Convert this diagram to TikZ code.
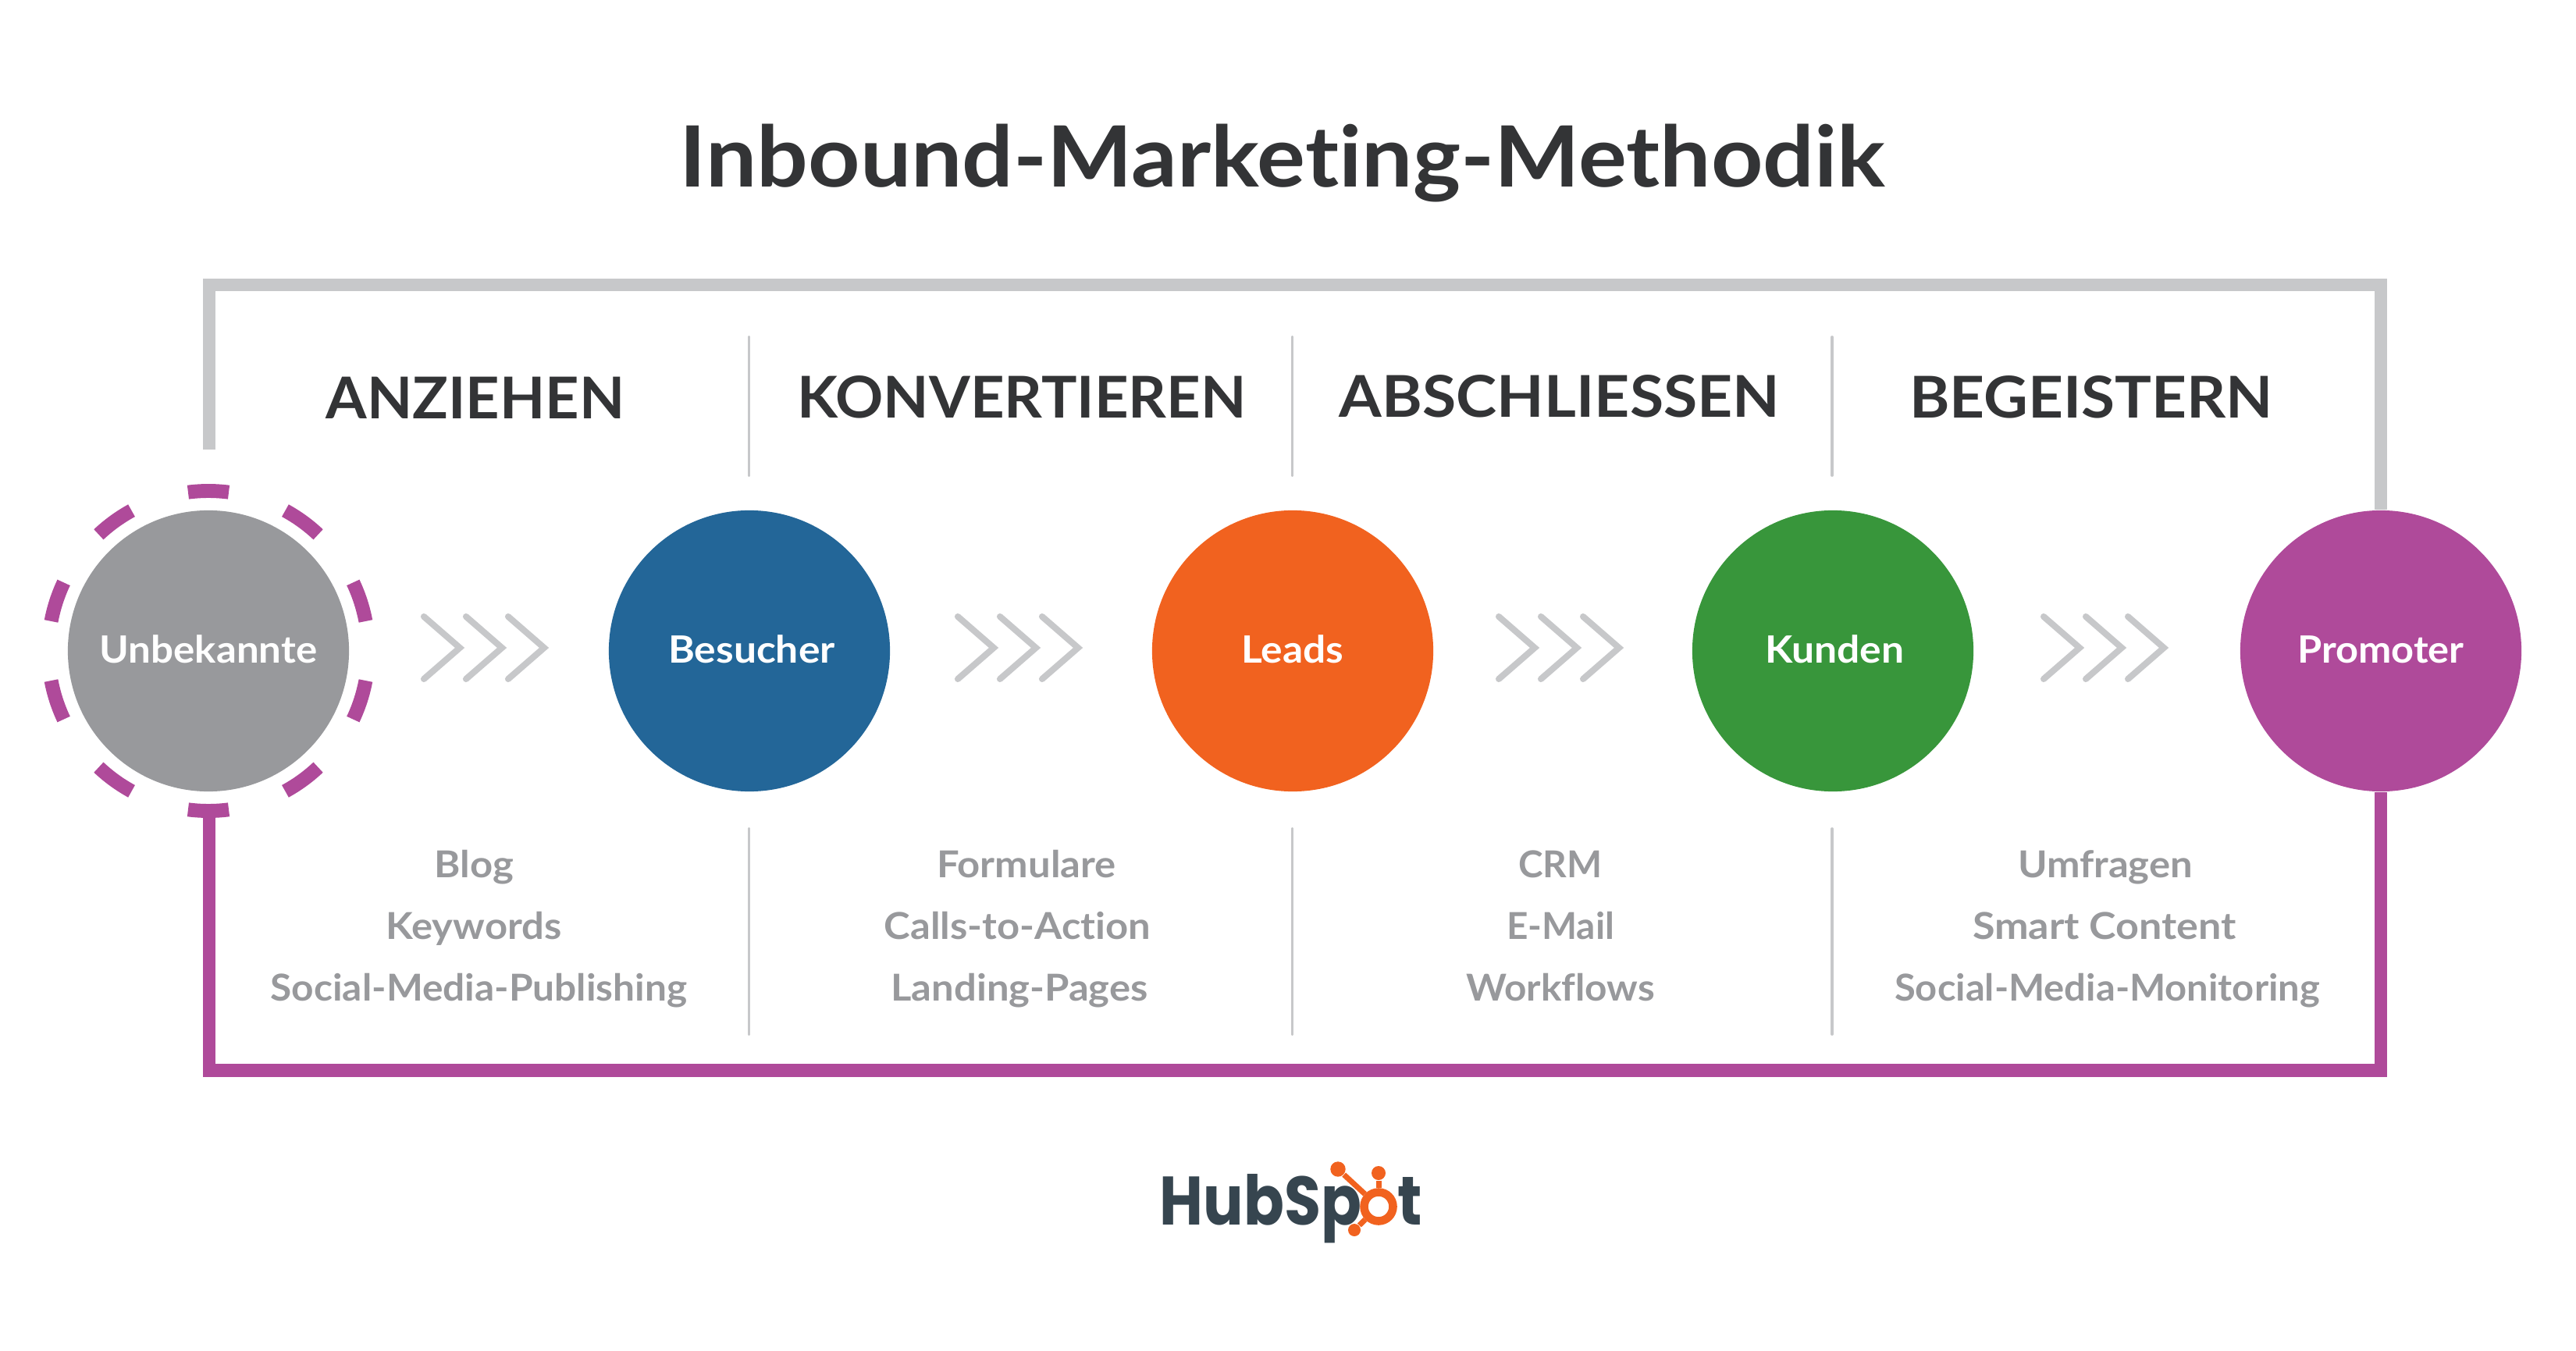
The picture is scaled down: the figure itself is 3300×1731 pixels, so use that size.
\documentclass[tikz,border=0pt]{standalone}
\usepackage{fontspec}
\setmainfont{Lato}[FakeStretch=1.07,Ligatures=NoCommon]
\newfontfamily\logofont{Poppins}[UprightFont=* SemiBold,BoldFont=* Bold]
\definecolor{ink}{HTML}{333436}
\definecolor{soft}{HTML}{98999C}
\definecolor{rule}{HTML}{C7C8CA}
\definecolor{plum}{HTML}{AF4A9A}
\definecolor{navy}{HTML}{236698}
\definecolor{tang}{HTML}{F1621F}
\definecolor{leaf}{HTML}{38963B}
\definecolor{slate}{HTML}{36454F}
\tikzset{
 px/.style={x=0.01cm,y=-0.01cm},
 disc/.style={circle,inner sep=0pt,minimum size=3.6cm},
 disclabel/.style={anchor=base,inner sep=0pt,text=white,font=\fontsize{13.7pt}{16pt}\selectfont\bfseries},
 titletext/.style={anchor=base,inner sep=0pt,text=ink,font=\fontsize{30.8pt}{36pt}\selectfont\bfseries},
 head/.style={anchor=base,font=\fontsize{21pt}{26pt}\selectfont\bfseries,text=ink,inner sep=0pt},
 item/.style={anchor=base,font=\fontsize{13.5pt}{16pt}\selectfont\bfseries,text=soft,inner sep=0pt},
 frame/.style={line width=4.75pt,miter limit=10},
 divider/.style={draw=rule,line width=1.1pt,line cap=round},
 chev/.style={draw=rule,line width=2.3pt,line cap=round,line join=miter,miter limit=10},
 dashseg/.style={draw=plum,line width=5.1pt},
 logotext/.style={anchor=base west,inner sep=0pt,text=slate,font=\logofont\fontsize{25pt}{30pt}\selectfont\bfseries},
 hub/.style={circle,inner sep=0pt,fill=tang},
 spoke/.style={draw=tang,line width=2pt},
}
\newcommand{\chevrons}[1]{%
 \foreach \k in {0,54,108} {
  \draw[chev] (#1+\k,790) -- (#1+46+\k,830) -- (#1+\k,870);
 }}
\newcommand{\hs}[2]{\scalebox{#1}[1]{#2}}
\begin{document}
\begin{tikzpicture}[px]
\useasboundingbox (0,0) rectangle (3300,1731);
\node[titletext] (title) at (1643,240) {Inbound-Marketing-Methodik};
\coordinate (gs) at (268,576);
\coordinate (gtl) at (268,365);
\coordinate (gtr) at (3050,365);
\coordinate (pbl) at (268,1371.5);
\coordinate (pbr) at (3050,1371.5);
\coordinate (ps) at (268,1040);
\node[disc,fill=soft] (u) at (267,834) {};
\node[disc,fill=navy] (b) at (960,834) {};
\node[disc,fill=tang] (l) at (1656,834) {};
\node[disc,fill=leaf] (k) at (2348,834) {};
\node[disc,fill=plum] (p) at (3050,834) {};
\draw[rule,frame] (gs) -- (gtl) -- (gtr) -- (gtr |- p.north);
\draw[plum,frame] (ps) -- (pbl) -- (pbr) -- (pbr |- p.south);
\node[disclabel] (ut) at (267,849) {\hs{0.99}{Unbekannte}};
\node[disclabel] (bt) at (963,849) {Besucher};
\node[disclabel] (lt) at (1656,849) {Leads};
\node[disclabel] (kt) at (2350,849) {Kunden};
\node[disclabel] (pt) at (3050,849) {\hs{0.98}{Promoter}};
\foreach \a in {18,54,...,342}
 \draw[dashseg] (267,834) ++(\a-7.3:205) arc[start angle=\a-7.3,end angle=\a+7.3,radius=205];
\chevrons{543}
\chevrons{1227}
\chevrons{1920}
\chevrons{2618}
\node[head] (h1) at (609,537) {\hs{0.958}{ANZIEHEN}};
\node[head] (h2) at (1309,536) {\hs{0.961}{KONVERTIEREN}};
\node[head] (h3) at (1998,535) {\hs{0.996}{ABSCHLIESSEN}};
\node[head] (h4) at (2679,536) {\hs{0.99}{BEGEISTERN}};
\foreach \x in {959.5,1655.5,2347} {
 \draw[divider] (\x,432) -- (\x,609);
 \draw[divider] (\x,1062) -- (\x,1325);
}
\node[item] (i11) at (607,1124) {Blog};
\node[item] (i12) at (607,1203) {Keywords};
\node[item] (i13) at (613.5,1282) {\hs{0.977}{Social-Media-Publishing}};
\node[item] (i21) at (1315,1124) {Formulare};
\node[item] (i22) at (1303.5,1203) {Calls-to-Action};
\node[item] (i23) at (1306,1282) {Landing-Pages};
\node[item] (i31) at (1999,1124) {\hs{0.94}{CRM}};
\node[item] (i32) at (1999,1203) {\hs{0.94}{E-Mail}};
\node[item] (i33) at (1999,1282) {\hs{0.975}{Workflows}};
\node[item] (i41) at (2697,1124) {Umfragen};
\node[item] (i42) at (2696,1203) {\hs{1.025}{Smart Content}};
\node[item] (i43) at (2699.5,1282) {\hs{0.963}{Social-Media-Monitoring}};
% logo
\node[logotext] (lg1) at (1485,1569) {\hs{0.87}{HubSp}};
\node[logotext] (lg2) at (1790,1569) {\hs{0.88}{t}};
\node[circle,draw=tang,fill=white,line width=3pt,minimum size=0.37cm,inner sep=0pt] (ring) at (1766,1546) {};
\node[hub,minimum size=0.194cm] (n1) at (1714,1498) {};
\node[hub,minimum size=0.18cm] (n2) at (1766,1503) {};
\node[hub,minimum size=0.16cm] (n3) at (1735,1576) {};
\draw[spoke] (n1) -- (ring);
\draw[spoke] (n2) -- (ring);
\draw[spoke] (n3) -- (ring);
\end{tikzpicture}
\end{document}
